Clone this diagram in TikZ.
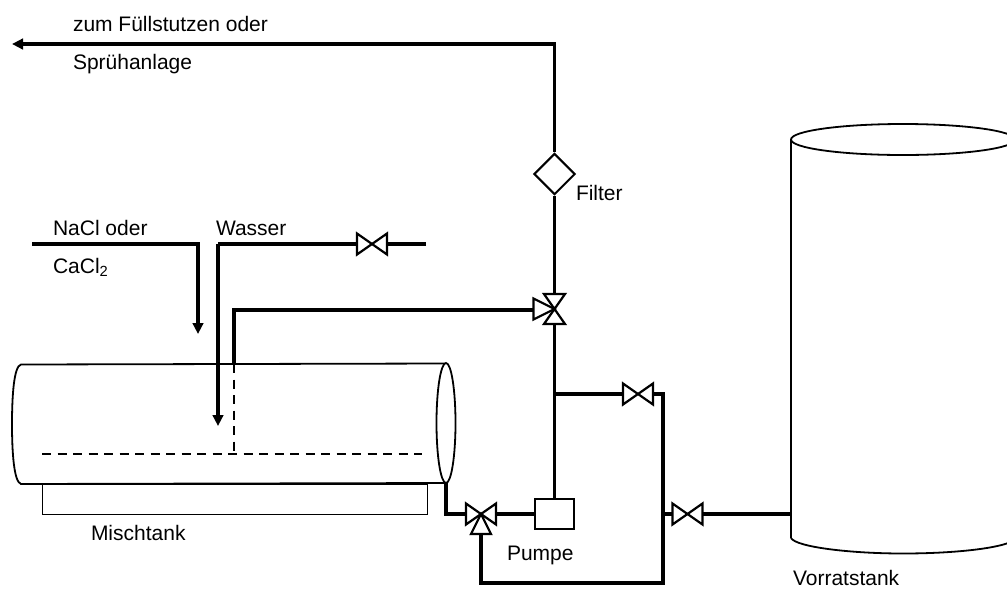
\documentclass[tikz,border=0pt]{standalone}
\usepackage{fontspec}
\setmainfont{Liberation Sans}
\usetikzlibrary{arrows.meta}
\tikzset{
  x=1pt,y=-1pt,
  pipe/.style={line width=3.5pt,line join=miter,line cap=butt},
  pipearrow/.style={pipe,-{Triangle[width=10.5pt,length=11pt]}},
  vessel/.style={line width=1.8pt},
  symbol/.style={draw,line width=2.2pt,fill=white,line join=miter},
  label/.style={anchor=base west,inner sep=0pt,outer sep=0pt,font=\fontsize{21}{24}\selectfont},
  dashline/.style={line width=2pt,dash pattern=on 9pt off 6.5pt},
  valve/.pic={
    \draw[symbol] (-15,-10.5) -- (0,0) -- (-15,10.5) -- cycle;
    \draw[symbol] (15,-10.5) -- (0,0) -- (15,10.5) -- cycle;
    \coordinate (-l) at (-15,0);
    \coordinate (-r) at (15,0);
  },
  threeup/.pic={
    \draw[symbol] (-10.5,-15) -- (0,0) -- (10.5,-15) -- cycle;
    \draw[symbol] (-10.5,15) -- (0,0) -- (10.5,15) -- cycle;
    \draw[symbol] (-21,-10.5) -- (0,0) -- (-21,10.5) -- cycle;
    \coordinate (-t) at (0,-15);
    \coordinate (-b) at (0,15);
    \coordinate (-l) at (-21,0);
  },
  threelow/.pic={
    \draw[symbol] (-15,-10.5) -- (0,0) -- (-15,10.5) -- cycle;
    \draw[symbol] (15,-10.5) -- (0,0) -- (15,10.5) -- cycle;
    \draw[symbol] (-10,20) -- (0,0) -- (10,20) -- cycle;
    \coordinate (-l) at (-15,0);
    \coordinate (-r) at (15,0);
    \coordinate (-b) at (0,20);
  }
}
\begin{document}
\begin{tikzpicture}
\useasboundingbox (0,0) rectangle (1007,590);
\clip (0,0) rectangle (1007,590);

% named points
\coordinate (outlet) at (12,44);
\coordinate (cornerTop) at (554.5,44);
\coordinate (saltStart) at (32,244);
\coordinate (saltCorner) at (198,244);
\coordinate (saltEnd) at (198,334);
\coordinate (waterStart) at (426,244);
\coordinate (waterCorner) at (218,244);
\coordinate (waterEnd) at (218,426);
\coordinate (retCorner) at (234,310);
\coordinate (retTank) at (234,364);
\coordinate (retBottom) at (234,455);
\coordinate (junction) at (554.5,394);
\coordinate (bypassTop) at (663,394);
\coordinate (bypassMid) at (663,514);
\coordinate (bypassBottom) at (663,583);
\coordinate (lowCorner) at (481,583);
\coordinate (drainTop) at (446,483);
\coordinate (drainCorner) at (446,514);
\coordinate (storePort) at (791,514);

% Mixing tank
\node[draw,line width=1pt,minimum width=385pt,minimum height=30pt,inner sep=0pt,anchor=north west] (base) at (42,484) {};
\draw[vessel] (446,363.5) -- (21,364.5) .. controls (14,366) and (12,395) .. (12,424)
  .. controls (12,453) and (14,482) .. (21,484) -- (446,483);
\draw[vessel,fill=white] (446,423) ellipse [x radius=9.5,y radius=60];
\draw[dashline] (42,453.5) -- (422,453.5);
\draw[dashline] (retTank) -- (retBottom);

% Storage tank
\draw[vessel] (791,139.5) -- (791,538);
\draw[vessel] (903,139.5) ellipse [x radius=112,y radius=15.5];
\draw[vessel] (791,538) .. controls (796,547) and (850,553.5) .. (903,553.5) .. controls (950,553.5) and (1000,549) .. (1015,540);

% Nodes
\node[draw,line width=2pt,minimum width=39pt,minimum height=30pt,inner sep=0pt] (pump) at (554.5,514) {};
\node[draw,line width=2pt,fill=white,minimum width=28.5pt,minimum height=28.5pt,inner sep=0pt,rotate=45] (filter) at (554.5,174) {};

% Pipes
\draw[pipearrow] (filter.north east) -- (cornerTop) -- (outlet);
\draw[pipearrow] (saltStart) -- (saltCorner) -- (saltEnd);
\draw[pipearrow] (waterCorner) -- (waterEnd);
\draw[pipe] (waterStart) -- (387,244);
\draw[pipe] (357,244) -- (waterCorner);
\draw[pipe] (retTank) -- (retCorner) -- (533,310);
\draw[pipe] (filter.south west) -- (554.5,294);
\draw[pipe] (554.5,324) -- (pump.north);
\draw[pipe] (junction) -- (623,394);
\draw[pipe] (653,394) -- (bypassTop) -- (bypassBottom) -- (lowCorner) -- (481,534);
\draw[pipe] (bypassMid) -- (673,514);
\draw[pipe] (702,514) -- (storePort);
\draw[pipe] (pump.west) -- (496,514);
\draw[pipe] (drainTop) -- (drainCorner) -- (466,514);

% Valves
\pic (vwater) at (372,244) {valve};
\pic (vbypass) at (638,394) {valve};
\pic (vstore) at (687.5,514) {valve};
\pic (vtop) at (554.5,309) {threeup};
\pic (vlow) at (481,514) {threelow};

% Labels
\node[label] (t1) at (73,31.5) {zum Füllstutzen oder};
\node[label] (t2) at (73,69.5) {Sprühanlage};
\node[label] (t3) at (576,200) {Filter};
\node[label] (t4) at (53,235.5) {NaCl oder};
\node[label] (t5) at (53,273.5) {CaCl\textsubscript{2}};
\node[label] (t6) at (216,235.5) {Wasser};
\node[label] (t7) at (91,540.5) {Mischtank};
\node[label] (t8) at (507,560.5) {Pumpe};
\node[label] (t9) at (793,585) {Vorratstank};
\end{tikzpicture}
\end{document}
